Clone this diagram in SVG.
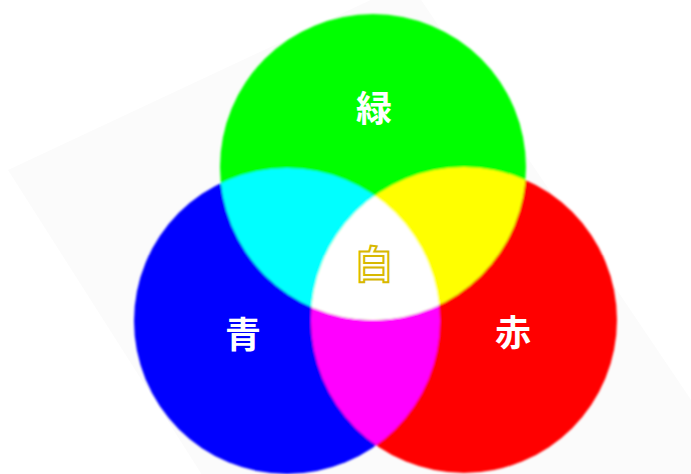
<svg xmlns="http://www.w3.org/2000/svg" width="691" height="474" viewBox="0 0 691 474">
<style>
.lbl{font-family:"Noto Sans CJK JP","Noto Sans CJK SC",sans-serif;font-weight:bold;font-size:36px;text-anchor:middle;fill:#fff}
.white{fill:#fffff4;stroke:#d8b800;stroke-width:2;font-size:38px}
</style>
<defs>
<clipPath id="cB"><circle cx="287" cy="321" r="153"/></clipPath>
<clipPath id="cR"><circle cx="464" cy="320" r="153"/></clipPath>
<filter id="soft" x="-5%" y="-5%" width="110%" height="110%"><feGaussianBlur stdDeviation="1.1"/></filter>
</defs>
<rect width="691" height="474" fill="#fff"/>
<polygon points="8,170 409,-18 806,570 218,500" fill="#fbfbfb"/>
<g id="circles" filter="url(#soft)">
<g id="blue"><circle cx="287" cy="321" r="153" fill="#0000ff"/></g>
<g id="red"><circle cx="464" cy="320" r="153" fill="#ff0000"/></g>
<g id="green"><circle cx="373" cy="167" r="153" fill="#00ff00"/></g>
<g id="magenta"><circle cx="464" cy="320" r="153" fill="#ff00ff" clip-path="url(#cB)"/></g>
<g id="cyan"><circle cx="373" cy="167" r="153" fill="#00ffff" clip-path="url(#cB)"/></g>
<g id="yellow"><circle cx="373" cy="167" r="153" fill="#ffff00" clip-path="url(#cR)"/></g>
<g id="whiteregion" clip-path="url(#cR)"><circle cx="373" cy="167" r="153" fill="#ffffff" clip-path="url(#cB)"/></g>
</g>
<g id="labels">
<text class="lbl" x="374" y="122">緑</text>
<text class="lbl white" x="374" y="278">白</text>
<text class="lbl" x="243" y="348">青</text>
<text class="lbl" x="513" y="346">赤</text>
</g>
</svg>
